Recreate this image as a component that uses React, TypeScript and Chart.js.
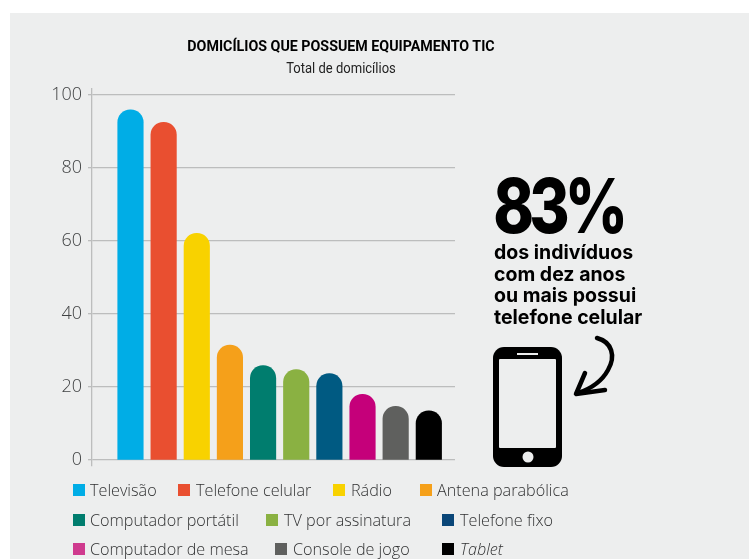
import React, { useEffect, useRef } from "react";
import { Chart, registerables } from "chart.js";

Chart.register(...registerables);

const categories = ["Televisão", "Telefone celular", "Rádio", "Antena parabólica", "Computador portátil", "TV por assinatura", "Telefone fixo", "Computador de mesa", "Console de jogo", "Tablet"];
const values = [95.9, 92.5, 62.1, 31.5, 25.9, 24.8, 23.7, 18, 14.7, 13.5];
const barColors = ["#00ade6", "#e94f30", "#f8d200", "#f5a01a", "#007d6e", "#8ab142", "#005a82", "#c5007a", "#5f605e", "#000000"];
const swatchColors = ["#00ade6", "#e94f30", "#f8d200", "#f5a01a", "#007d6e", "#8ab142", "#0a4678", "#cf3a8e", "#5f605e", "#000000"];
const yTicks = [0, 20, 40, 60, 80, 100];
const legendSwatchX = [73, 178, 333, 420, 73, 266, 442, 73, 275, 442];
const legendTextX = [90, 196, 351, 437, 90, 284, 460, 90, 293, 460];
const legendY = [490, 520, 549];
const legendRow = [0, 0, 0, 0, 1, 1, 1, 2, 2, 2];
const calloutLines = ["dos indivíduos", "com dez anos", "ou mais possui", "telefone celular"];

export default function App() {
  const ref = useRef<HTMLCanvasElement | null>(null);
  useEffect(() => {
    const chart = new Chart(ref.current!, {
      type: "bar",
      data: {
        datasets: [{
          data: values.map((v, i) => ({ x: i, y: v })),
          backgroundColor: barColors,
          barThickness: 25.5,
          borderRadius: { topLeft: 12.75, topRight: 12.75, bottomLeft: 0, bottomRight: 0 },
          borderSkipped: false,
        }],
      },
      options: {
        responsive: false,
        animation: false,
        layout: { padding: { left: 0, top: 89, right: 294, bottom: 93 } },
        plugins: { legend: { display: false }, title: { display: false }, tooltip: { enabled: false } },
        scales: {
          x: { type: "linear", display: false, offset: false, min: -1.161, max: 9.79 },
          y: {
            min: -1.64,
            max: 101.64,
            afterBuildTicks: (s: any) => { s.ticks = yTicks.map((v) => ({ value: v })); },
            afterFit: (s: any) => { s.width = 92; },
            grid: { color: "#bcbdbd", lineWidth: 1.3, tickLength: 4, drawTicks: true },
            border: { display: true, color: "#bcbdbd", width: 1.3 },
            ticks: {
              color: "#404243",
              padding: 6,
              font: { family: "'Open Sans'", size: 18, weight: 300 },
            },
          },
        },
      },
    });
    return () => chart.destroy();
  }, []);

  const text: React.CSSProperties = { position: "absolute", whiteSpace: "nowrap", lineHeight: 1 };
  return (
    <div style={{ position: "fixed", left: 0, top: 0, width: 749, height: 559, background: "#fff", overflow: "hidden", fontFamily: "'Open Sans'" }}>
      <div style={{ position: "absolute", left: 10, top: 13, width: 739, height: 546, background: "#edeeee" }} />
      <canvas ref={ref} width={749} height={559} style={{ position: "absolute", left: 0, top: 0 }} />
      <div style={{ ...text, left: 0, width: 682, textAlign: "center", top: 39, fontFamily: "Roboto", fontWeight: 700, fontSize: 15, color: "#000", transform: "scaleX(0.95)", transformOrigin: "341px 0" }}>DOMICÍLIOS QUE POSSUEM EQUIPAMENTO TIC</div>
      <div style={{ ...text, left: 0, width: 682, textAlign: "center", top: 61, fontFamily: "Roboto", fontSize: 14, color: "#222", transform: "scaleX(0.93)", transformOrigin: "341px 0" }}>Total de domicílios</div>
      {categories.map((c, i) => (
        <React.Fragment key={c}>
          <div style={{ position: "absolute", left: legendSwatchX[i], top: legendY[legendRow[i]] - 6, width: 12, height: 12, background: swatchColors[i] }} />
          <div style={{ ...text, left: legendTextX[i], top: legendY[legendRow[i]] - 8, fontSize: 16.2, fontWeight: 300, color: "#303132", fontStyle: c === "Tablet" ? "italic" : "normal" }}>{c}</div>
        </React.Fragment>
      ))}
      <div style={{ ...text, left: 493, top: 168, fontFamily: "Inter", fontWeight: 800, fontSize: 75, letterSpacing: -6, color: "#000", transform: "scaleX(0.82)", transformOrigin: "2px 0" }}>83%</div>
      {calloutLines.map((l, i) => (
        <div key={l} style={{ ...text, left: 494, top: 243 + i * 21.7, fontFamily: "Inter", fontWeight: 700, fontSize: 19.5, color: "#000" }}>{l}</div>
      ))}
      <svg width={749} height={559} style={{ position: "absolute", left: 0, top: 0 }}>
        <rect x={493} y={347} width={69} height={120} rx={11} fill="#000" />
        <rect x={499} y={359} width={57} height={89} rx={1} fill="#edeeee" />
        <rect x={517} y={353} width={21} height={2} fill="#edeeee" />
        <circle cx={528} cy={457} r={5.5} fill="#edeeee" />
        <path d="M597 338 C612 342 616 356 608 370 C602 381 590 389 578 393" fill="none" stroke="#000" strokeWidth={4.5} strokeLinecap="round" />
        <path d="M585 373 L576 394 L605 390" fill="none" stroke="#000" strokeWidth={4.5} strokeLinecap="round" strokeLinejoin="round" />
      </svg>
    </div>
  );
}
